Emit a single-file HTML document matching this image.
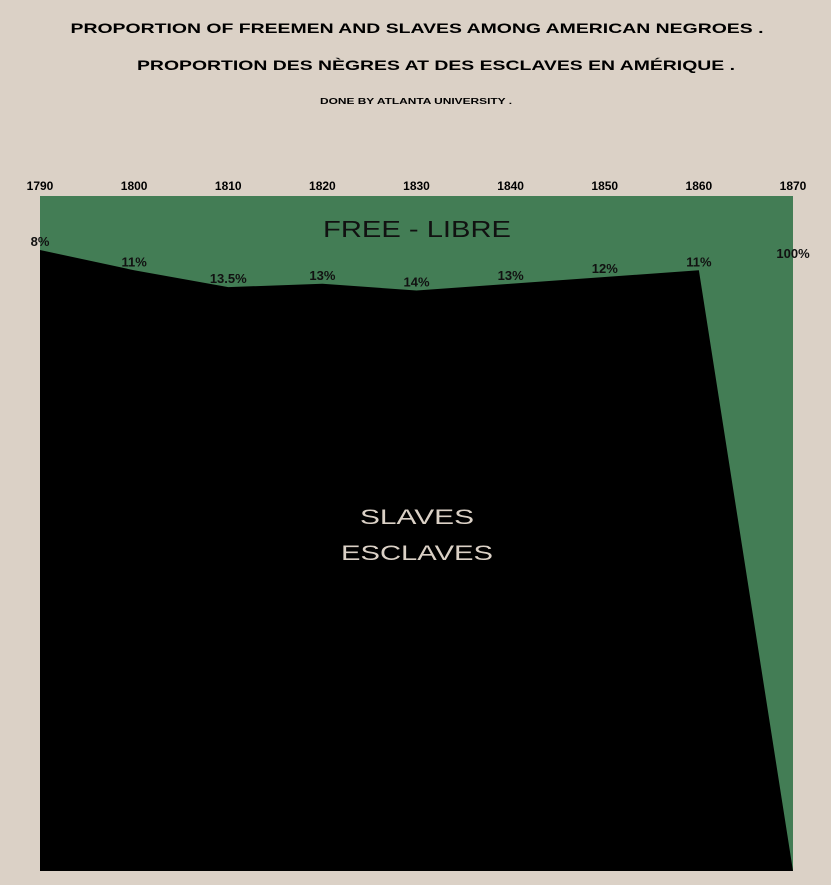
<!DOCTYPE html>
<html><head><meta charset="utf-8"><style>
body{margin:0;background:#dbd1c6;}
svg{display:block;font-family:"Liberation Sans",sans-serif;}
</style></head><body>
<svg id="chart" width="831" height="885">
<rect width="831" height="885" fill="#dbd1c6"/>
<text x="417" y="33" text-anchor="middle" font-size="14" font-weight="bold" textLength="693" lengthAdjust="spacingAndGlyphs">PROPORTION OF FREEMEN AND SLAVES AMONG AMERICAN NEGROES .</text>
<text x="436" y="70" text-anchor="middle" font-size="14" font-weight="bold" textLength="598" lengthAdjust="spacingAndGlyphs">PROPORTION DES NÈGRES AT DES ESCLAVES EN AMÉRIQUE .</text>
<text x="416" y="104" text-anchor="middle" font-size="8" font-weight="bold" textLength="192" lengthAdjust="spacingAndGlyphs">DONE BY ATLANTA UNIVERSITY .</text>
<g id="plot"></g>
</svg>
<script>
const years=[1790,1800,1810,1820,1830,1840,1850,1860,1870];
const freePct=[8,11,13.5,13,14,13,12,11,100];
const freeLabels=["8%","11%","13.5%","13%","14%","13%","12%","11%","100%"];
const X0=40,X1=793,Y0=196,Y1=871;
const xs=y=>X0+(y-1790)/(1870-1790)*(X1-X0);
const ys=p=>Y0+p/100*(Y1-Y0);
const NS="http://www.w3.org/2000/svg";
const g=document.getElementById('plot');
function mk(t,a){const e=document.createElementNS(NS,t);for(const k in a)e.setAttribute(k,a[k]);g.appendChild(e);return e;}
const fr=mk('rect',{x:X0,y:Y0,width:X1-X0,height:Y1-Y0,fill:'#437d55'});


let d='M'+xs(years[0])+','+Y1;
years.forEach((yr,i)=>{d+=' L'+xs(yr)+','+ys(freePct[i]);});
d+=' Z';
const sl=mk('path',{d:d,fill:'#000'});


years.forEach((yr,i)=>{
  const t=mk('text',{x:xs(yr),y:190,'text-anchor':'middle','font-size':12,'font-weight':'bold'});
  t.textContent=yr;
  
  
  const ly=i===8?258:ys(freePct[i])-4;
  const l=mk('text',{x:xs(yr),y:ly,'text-anchor':'middle','font-size':13,'font-weight':'bold',fill:'#111'});
  l.textContent=freeLabels[i];
  
  
});
const f=mk('text',{x:417,y:237,'text-anchor':'middle','font-size':23,fill:'#111',textLength:188,lengthAdjust:'spacingAndGlyphs'});
f.textContent='FREE - LIBRE';


const s1=mk('text',{x:417,y:524,'text-anchor':'middle','font-size':21,fill:'#dbd1c6',textLength:114,lengthAdjust:'spacingAndGlyphs'});
s1.textContent='SLAVES';


const s2=mk('text',{x:417,y:560,'text-anchor':'middle','font-size':21,fill:'#dbd1c6',textLength:152,lengthAdjust:'spacingAndGlyphs'});
s2.textContent='ESCLAVES';


</script>
</body></html>
